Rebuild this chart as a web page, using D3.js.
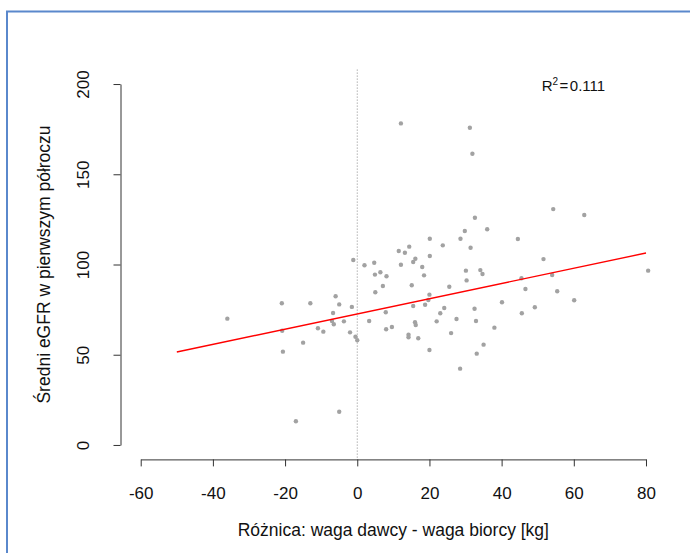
<!DOCTYPE html>
<html lang="pl">
<head>
<meta charset="utf-8">
<title>eGFR a różnica wagi dawcy i biorcy</title>
<script src="https://cdn.jsdelivr.net/npm/d3@7/dist/d3.min.js"></script>
<style>
  html, body { margin: 0; padding: 0; background: #ffffff; }
  svg { display: block; font-family: "Liberation Sans", Arial, Helvetica, sans-serif; }
</style>
</head>
<body>
<svg id="chart" width="690" height="553"></svg>
<script>
// Różnica wagi dawcy i biorcy [kg]
const diffKg = [
  -1.1, 2.0, -20.9, -13.0, -6.0, -5.0, -1.5, -6.7, -36.0, -7.0,
  -6.5, -3.7, 3.3, -20.8, -10.9, -9.4, -2.0, -0.5, 0.0, -15.0,
  -20.6, -5.0, -17.0, 12.1, 31.2, 31.9, 32.6, 36.0, 29.8, 20.1,
  28.6, 44.5, 23.7, 31.4, 14.4, 11.5, 13.2, 20.1, 16.1, 15.5,
  51.6, 4.7, 12.1, 18.0, 4.9, 6.4, 8.1, 18.5, 30.1, 34.1,
  34.7, 30.3, 15.1, 7.1, 5.0, 25.5, 45.5, 46.6, 20.0, 18.8,
  15.5, 40.1, 49.2, 45.6, 7.9, 24.1, 23.0, 32.5, 32.9, 22.0,
  27.5, 16.0, 16.2, 8.0, 9.6, 38.0, 26.0, 14.2, 14.2, 16.9,
  20.0, 35.0, 33.1, 28.5, 54.3, 62.9, 54.0, 80.6, 55.4, 60.1,
  19.7
];

// Średni eGFR w pierwszym półroczu
const egfr = [
  102.5, 99.6, 78.5, 78.5, 82.4, 77.9, 76.5, 73.1, 70.0, 68.7,
  66.9, 68.5, 68.7, 63.3, 64.7, 62.8, 62.4, 60.0, 58.0, 56.7,
  51.7, 18.4, 13.1, 178.2, 175.8, 161.4, 125.9, 119.5, 118.6, 114.3,
  114.3, 114.1, 110.6, 109.3, 109.9, 107.5, 106.5, 104.7, 103.2, 101.4,
  103.0, 101.0, 99.9, 98.6, 94.4, 95.7, 93.5, 94.0, 96.6, 96.9,
  94.7, 91.2, 88.5, 88.1, 84.6, 87.7, 92.4, 86.4, 83.3, 77.7,
  77.0, 79.1, 76.3, 73.0, 73.5, 75.9, 73.0, 75.5, 68.7, 68.5,
  69.8, 68.0, 66.5, 64.1, 65.4, 65.0, 62.0, 61.1, 59.7, 59.1,
  52.6, 55.6, 50.6, 42.3, 130.7, 127.4, 94.2, 96.6, 85.2, 80.2,
  80.3
];

// Prosta regresji: eGFR = a + b * różnica, rysowana na zakresie fitRange
const fitCoef = [72.6, 0.422];
const fitRange = [-50, 80];
const rSquared = "0.111";

const xTicks = [-60, -40, -20, 0, 20, 40, 60, 80];
const yTicks = [0, 50, 100, 150, 200];

const xLabel = "Różnica: waga dawcy - waga biorcy [kg]";
const yLabel = "Średni eGFR w pierwszym półroczu";

const points = diffKg.map((d, i) => ({ x: d, y: egfr[i] }));

const svg = d3.select("#chart");

// Ramka wokół wykresu
svg.append("path")
  .attr("d", "M7,553 V11.5 H690")
  .attr("fill", "none")
  .attr("stroke", "#5a88cc")
  .attr("stroke-width", 2);

// Obszar wykresu: osie -60..80 oraz 0..200 z 4% zapasem
const plotLeft = 120.5, plotRight = 666.2, plotTop = 69.6, plotBottom = 459.4;
const xLim = [-60, 80], yLim = [0, 200];
const xPad = (xLim[1] - xLim[0]) * 0.04, yPad = (yLim[1] - yLim[0]) * 0.04;

const x = d3.scaleLinear()
  .domain([xLim[0] - xPad, xLim[1] + xPad])
  .range([plotLeft, plotRight]);
const y = d3.scaleLinear()
  .domain([yLim[0] - yPad, yLim[1] + yPad])
  .range([plotBottom, plotTop]);

// Linia pionowa w zerze
svg.append("line")
  .attr("x1", x(0)).attr("x2", x(0))
  .attr("y1", plotTop).attr("y2", plotBottom)
  .attr("stroke", "#8a8a8a")
  .attr("stroke-width", 1)
  .attr("stroke-dasharray", "1,2");

// Punkty
svg.append("g")
  .selectAll("circle")
  .data(points)
  .join("circle")
  .attr("cx", d => x(d.x))
  .attr("cy", d => y(d.y))
  .attr("r", 2.2)
  .attr("fill", "#a2a2a2");

// Prosta regresji
const fitLine = d3.line()
  .x(d => x(d))
  .y(d => y(fitCoef[0] + fitCoef[1] * d));
svg.append("path")
  .datum(fitRange)
  .attr("d", fitLine)
  .attr("fill", "none")
  .attr("stroke", "#ff0000")
  .attr("stroke-width", 1.4);

// Osie: linia tylko między skrajnymi podziałkami
const axisColor = "#333333";
const tickFont = "17px";
const titleFont = "17.5px";
const plainNumber = d => String(d);
const xAxisScale = x.copy().domain(xLim).range([x(xLim[0]), x(xLim[1])]);
const yAxisScale = y.copy().domain(yLim).range([y(yLim[0]), y(yLim[1])]);

const gx = svg.append("g")
  .attr("transform", `translate(0,${plotBottom})`)
  .call(d3.axisBottom(xAxisScale).tickValues(xTicks).tickFormat(plainNumber)
    .tickSize(7).tickSizeOuter(0));
gx.select(".domain").attr("stroke", axisColor);
gx.selectAll(".tick line").attr("stroke", axisColor);
gx.selectAll(".tick text")
  .attr("y", 39.9)
  .attr("dy", 0)
  .attr("fill", "#111")
  .style("font-size", tickFont)
  .style("font-family", "'Liberation Sans', Arial, sans-serif");

const gy = svg.append("g")
  .attr("transform", `translate(${plotLeft},0)`)
  .call(d3.axisLeft(yAxisScale).tickValues(yTicks).tickFormat(plainNumber)
    .tickSize(7).tickSizeOuter(0));
gy.select(".domain").attr("stroke", axisColor);
gy.selectAll(".tick line").attr("stroke", axisColor);
gy.selectAll(".tick text")
  .attr("x", 0)
  .attr("dy", 0)
  .attr("text-anchor", "middle")
  .attr("transform", "translate(-31.5,0) rotate(-90)")
  .attr("fill", "#111")
  .style("font-size", tickFont)
  .style("font-family", "'Liberation Sans', Arial, sans-serif");

// Tytuły osi
svg.append("text")
  .attr("x", (plotLeft + plotRight) / 2)
  .attr("y", 535.7)
  .attr("text-anchor", "middle")
  .attr("fill", "#111")
  .style("font-size", titleFont)
  .text(xLabel);

svg.append("text")
  .attr("transform", `translate(49.5,${(plotTop + plotBottom) / 2}) rotate(-90)`)
  .attr("text-anchor", "middle")
  .attr("fill", "#111")
  .style("font-size", titleFont)
  .text(yLabel);

// Współczynnik determinacji
const r2 = svg.append("text")
  .attr("x", 541.7)
  .attr("y", 91)
  .attr("fill", "#111")
  .style("font-size", "15px");
r2.append("tspan").text("R");
r2.append("tspan").attr("dy", -6).style("font-size", "10px").text("2");
r2.append("tspan").attr("dy", 6).attr("dx", 1.5).text("=");
r2.append("tspan").attr("dx", 1.5).text(rSquared);
</script>
</body>
</html>
